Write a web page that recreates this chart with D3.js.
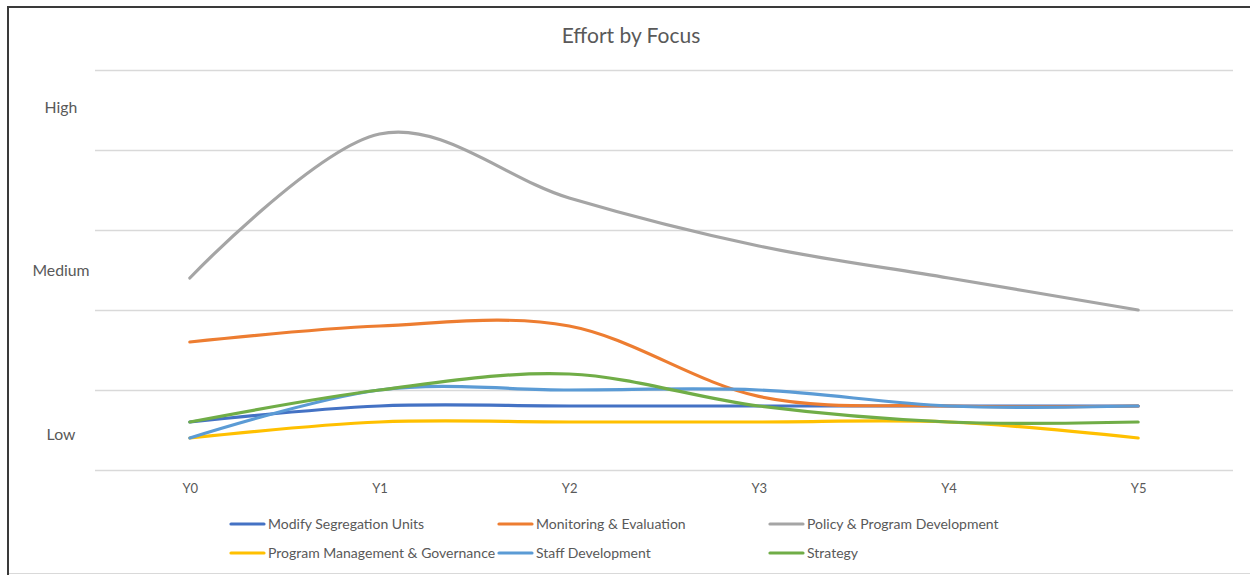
<!DOCTYPE html>
<html>
<head>
<meta charset="utf-8">
<script src="https://cdn.jsdelivr.net/npm/d3@7"></script>
<style>
  html, body { margin: 0; padding: 0; background: #fff; }
  svg { display: block; }
  text { font-family: Lato, "Open Sans", "Liberation Sans", sans-serif; fill: #595959; }
</style>
</head>
<body>
<svg id="chart" width="1250" height="575"></svg>
<script>
// ---- data ----
const categories = ["Y0", "Y1", "Y2", "Y3", "Y4", "Y5"];
const seriesNames = [
  "Modify Segregation Units",
  "Monitoring & Evaluation",
  "Policy & Program Development",
  "Program Management & Governance",
  "Staff Development",
  "Strategy"
];
const modifySegregation = [0.6, 0.8, 0.8, 0.8, 0.8, 0.8];
const monitoringEvaluation = [1.6, 1.8, 1.8, 0.92, 0.8, 0.8];
const policyProgram = [2.4, 4.2, 3.4, 2.8, 2.4, 2.0];
const programManagement = [0.4, 0.6, 0.6, 0.6, 0.6, 0.4];
const staffDevelopment = [0.4, 1.0, 1.0, 1.0, 0.8, 0.8];
const strategy = [0.6, 1.0, 1.2, 0.8, 0.6, 0.6];
const gridTicks = [0, 1, 2, 3, 4, 5];
const levelLabels = ["High", "Medium", "Low"];
const levelValues = [4.53, 2.5, 0.45];
const colors = ["#4472C4", "#ED7D31", "#A5A5A5", "#FFC000", "#5B9BD5", "#70AD47"];
const title = "Effort by Focus";

const seriesValues = [modifySegregation, monitoringEvaluation, policyProgram,
                      programManagement, staffDevelopment, strategy];

// ---- layout ----
const svg = d3.select("#chart");
const plot = { left: 95, right: 1233, top: 70, bottom: 470 };

const x = d3.scalePoint()
  .domain(categories)
  .range([plot.left, plot.right])
  .padding(0.5);

const y = d3.scaleLinear()
  .domain([0, 5])
  .range([plot.bottom, plot.top]);

// chart frame
svg.append("line").attr("x1", 7).attr("x2", 1250).attr("y1", 7).attr("y2", 7)
  .attr("stroke", "#3a3a3a").attr("stroke-width", 2);
svg.append("line").attr("x1", 8).attr("x2", 8).attr("y1", 6).attr("y2", 575)
  .attr("stroke", "#3a3a3a").attr("stroke-width", 2);
svg.append("line").attr("x1", 9).attr("x2", 1250).attr("y1", 573.5).attr("y2", 573.5)
  .attr("stroke", "#d9d9d9").attr("stroke-width", 1);

// title
svg.append("text")
  .attr("x", 631).attr("y", 43)
  .attr("text-anchor", "middle")
  .style("font-size", "21px")
  .text(title);

// gridlines
svg.append("g")
  .selectAll("line")
  .data(gridTicks)
  .join("line")
  .attr("x1", plot.left).attr("x2", plot.right)
  .attr("y1", d => y(d) + 0.5).attr("y2", d => y(d) + 0.5)
  .attr("stroke", "#d9d9d9").attr("stroke-width", 1.5);

// x axis labels
const xAxis = d3.axisBottom(x).tickSize(0).tickPadding(14);
const gx = svg.append("g")
  .attr("transform", `translate(0,${plot.bottom})`)
  .call(xAxis);
gx.select(".domain").remove();
gx.selectAll("text")
  .style("font-size", "13px")
  .style("font-family", "Lato, 'Open Sans', sans-serif")
  .attr("fill", "#595959");

// level labels
svg.append("g")
  .selectAll("text")
  .data(levelLabels)
  .join("text")
  .attr("x", 61)
  .attr("y", (d, i) => y(levelValues[i]))
  .attr("dy", "0.35em")
  .attr("text-anchor", "middle")
  .style("font-size", "15.8px")
  .text(d => d);

// lines
const line = d3.line()
  .x((d, i) => x(categories[i]))
  .y(d => y(d))
  .curve(d3.curveCardinal.tension(0));

svg.append("g")
  .selectAll("path")
  .data(seriesValues)
  .join("path")
  .attr("d", d => line(d))
  .attr("fill", "none")
  .attr("stroke", (d, i) => colors[i])
  .attr("stroke-width", 3.2)
  .attr("stroke-linecap", "round")
  .attr("stroke-linejoin", "round");

// legend
const legendCols = [231, 499, 770];
const legendRows = [524, 553];
const lg = svg.append("g")
  .selectAll("g")
  .data(seriesNames)
  .join("g")
  .attr("transform", (d, i) => `translate(${legendCols[i % 3]},${legendRows[Math.floor(i / 3)]})`);
lg.append("line")
  .attr("x1", 0).attr("x2", 33).attr("y1", 0).attr("y2", 0)
  .attr("stroke", (d, i) => colors[i])
  .attr("stroke-width", 3.2)
  .attr("stroke-linecap", "round");
lg.append("text")
  .attr("x", 37).attr("y", 0).attr("dy", "0.35em")
  .style("font-size", "14px")
  .text(d => d);
</script>
</body>
</html>
